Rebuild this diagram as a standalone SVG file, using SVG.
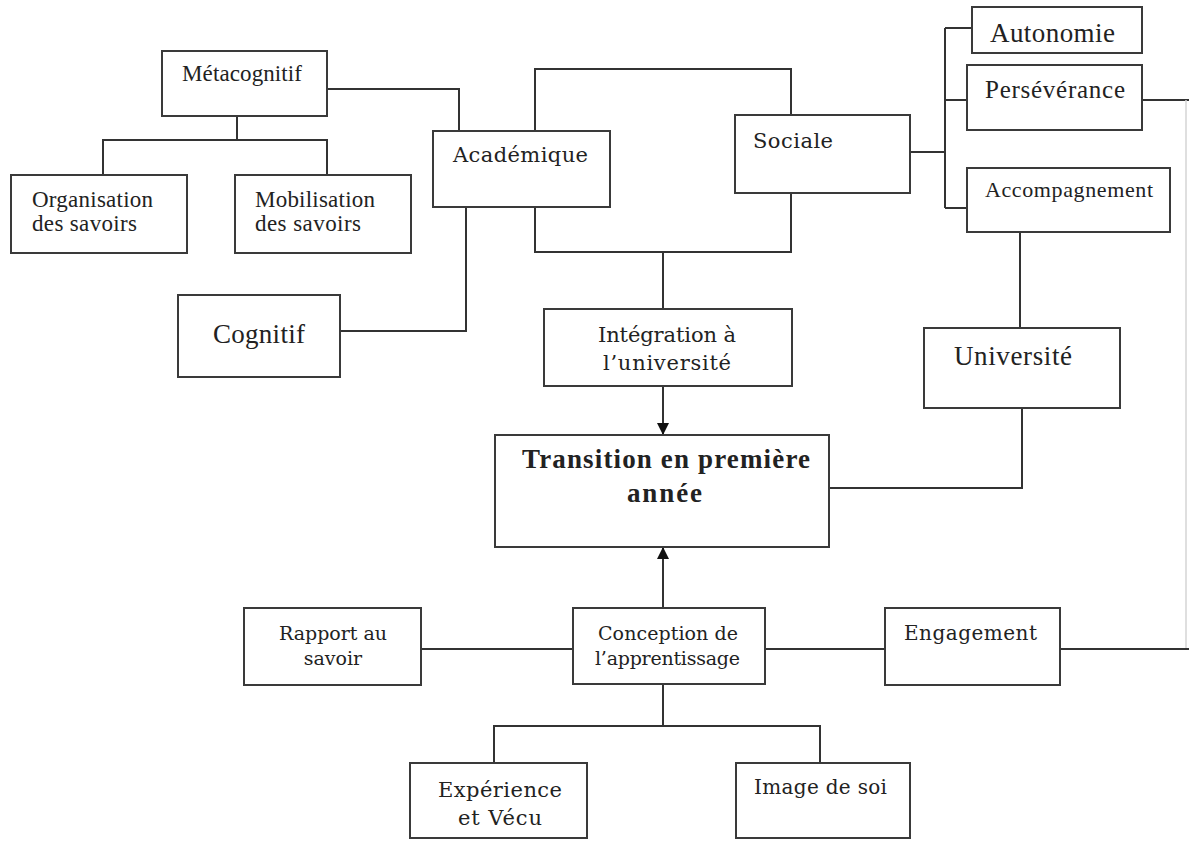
<svg xmlns="http://www.w3.org/2000/svg" width="1189" height="841" viewBox="0 0 1189 841">
<style>
.box{fill:#fff;stroke:#3a3a3a;stroke-width:2}
.ln{fill:none;stroke:#333;stroke-width:2}
.faint{fill:none;stroke:#d4d4d4;stroke-width:1.5}
.t{font-family:"Liberation Serif","Times New Roman",serif;fill:#222}
.c{font-family:"DejaVu Serif","Liberation Serif",serif;fill:#222}
.b{font-weight:bold}
</style>
<defs>
<marker id="arr" viewBox="0 0 10 10" refX="10" refY="5" markerWidth="6" markerHeight="6" orient="auto" markerUnits="strokeWidth">
<path d="M0,0 L10,5 L0,10 z" fill="#111"/>
</marker>
</defs>
<rect width="1189" height="841" fill="#fff"/>
<g id="connectors">
<path class="ln" d="M327,89 H459 V131"/>
<path class="ln" d="M237,116 V140 M103,175 V140 H327 V175"/>
<path class="ln" d="M340,331 H466 V207"/>
<path class="ln" d="M535,131 V69 H791 V115"/>
<path class="ln" d="M535,207 V252 H791 V193"/>
<path class="ln" d="M663,252 V309"/>
<path class="ln" d="M663,386 V435" marker-end="url(#arr)"/>
<path class="ln" d="M910,152 H945 M945,28 V208 M945,28 H972 M945,100 H967 M945,208 H967"/>
<path class="ln" d="M1142,100 H1189"/>
<path class="faint" d="M1186,100 V649"/>
<path class="ln" d="M1060,649 H1189"/>
<path class="ln" d="M1020,232 V328"/>
<path class="ln" d="M1022,408 V488 H829"/>
<path class="ln" d="M663,608 V547" marker-end="url(#arr)"/>
<path class="ln" d="M421,649 H573"/>
<path class="ln" d="M765,649 H885"/>
<path class="ln" d="M663,684 V726 M494,763 V726 H820 V763"/>
</g>
<g id="metacognitif"><rect class="box" x="162" y="51" width="165" height="65"/><text class="t" x="182" y="81" font-size="23" textLength="120">Métacognitif</text></g>
<g id="organisation"><rect class="box" x="11" y="175" width="176" height="78"/><text class="t" x="32" y="207" font-size="23" textLength="121">Organisation</text><text class="t" x="32" y="231" font-size="23" textLength="105">des savoirs</text></g>
<g id="mobilisation"><rect class="box" x="235" y="175" width="176" height="78"/><text class="t" x="255" y="207" font-size="23" textLength="120">Mobilisation</text><text class="t" x="255" y="231" font-size="23" textLength="106">des savoirs</text></g>
<g id="academique"><rect class="box" x="433" y="131" width="177" height="76"/><text class="c" x="453" y="162" font-size="21" textLength="135">Académique</text></g>
<g id="cognitif"><rect class="box" x="178" y="295" width="162" height="82"/><text class="t" x="213" y="343" font-size="27" textLength="92">Cognitif</text></g>
<g id="sociale"><rect class="box" x="735" y="115" width="175" height="78"/><text class="c" x="753" y="148" font-size="21" textLength="80">Sociale</text></g>
<g id="autonomie"><rect class="box" x="972" y="7" width="170" height="46"/><text class="t" x="990" y="42" font-size="27" textLength="125">Autonomie</text></g>
<g id="perseverance"><rect class="box" x="967" y="65" width="175" height="65"/><text class="t" x="985" y="98" font-size="25" textLength="140">Persévérance</text></g>
<g id="accompagnement"><rect class="box" x="967" y="168" width="203" height="64"/><text class="t" x="985" y="197" font-size="22" textLength="168">Accompagnement</text></g>
<g id="universite"><rect class="box" x="924" y="328" width="196" height="80"/><text class="t" x="954" y="365" font-size="27" textLength="118">Université</text></g>
<g id="integration"><rect class="box" x="544" y="309" width="248" height="77"/><text class="c" x="598" y="342" font-size="21" textLength="138">Intégration à</text><text class="c" x="603" y="370" font-size="21" textLength="128">l’université</text></g>
<g id="transition"><rect class="box" x="495" y="435" width="334" height="112"/><text class="t b" x="522" y="468" font-size="27" textLength="288">Transition en première</text><text class="t b" x="627" y="502" font-size="27" textLength="75">année</text></g>
<g id="rapport"><rect class="box" x="244" y="608" width="177" height="77"/><text class="c" x="333" y="640" font-size="19" text-anchor="middle">Rapport au</text><text class="c" x="333" y="665" font-size="19" text-anchor="middle">savoir</text></g>
<g id="conception"><rect class="box" x="573" y="608" width="192" height="76"/><text class="c" x="598" y="640" font-size="19" textLength="140">Conception de</text><text class="c" x="595" y="665" font-size="19" textLength="145">l’apprentissage</text></g>
<g id="engagement"><rect class="box" x="885" y="608" width="175" height="77"/><text class="c" x="904" y="640" font-size="20" textLength="133">Engagement</text></g>
<g id="experience"><rect class="box" x="410" y="763" width="177" height="75"/><text class="c" x="438" y="797" font-size="21" textLength="124">Expérience</text><text class="c" x="458" y="825" font-size="21" textLength="84">et Vécu</text></g>
<g id="image"><rect class="box" x="736" y="763" width="174" height="75"/><text class="c" x="754" y="794" font-size="20" textLength="133">Image de soi</text></g>
</svg>
